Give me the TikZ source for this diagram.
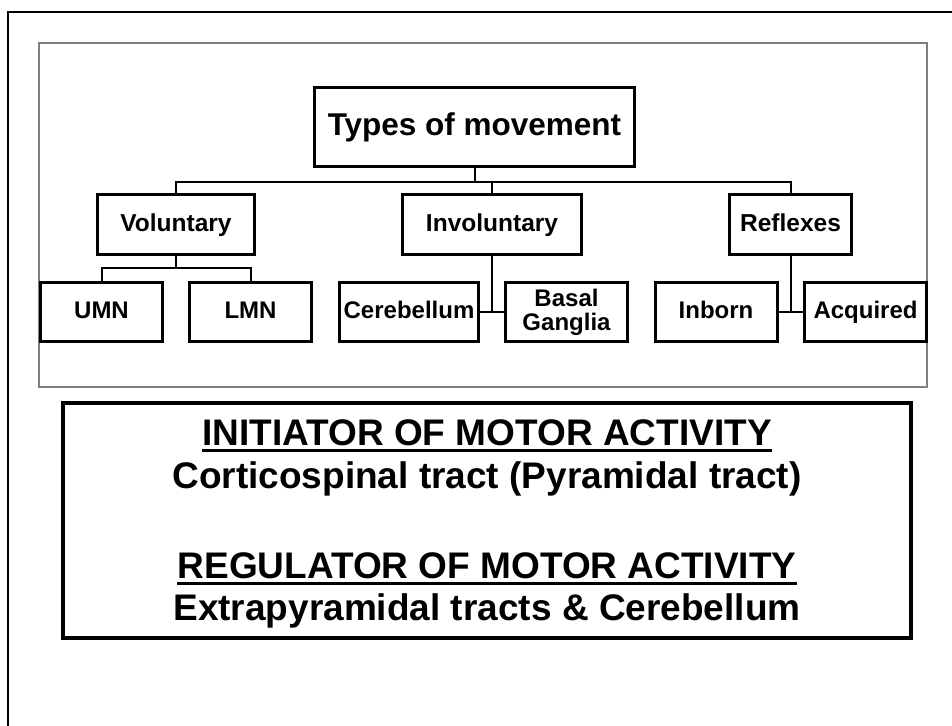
\documentclass[tikz,border=0pt]{standalone}
\usepackage{fontspec}
\setmainfont{Liberation Sans}
\usepackage{xcolor}
\definecolor{framegray}{RGB}{128,128,128}
\usepackage{tikz}
\usetikzlibrary{positioning, calc}

\tikzset{
  topbox/.style={draw, line width=3.2, inner sep=0, minimum width=320, minimum height=79,
                 font=\fontsize{31.5}{36}\selectfont\bfseries, text height=23.6, text depth=6.3},
  kindbox/.style={draw, line width=3, inner sep=0, minimum height=60,
                 font=\fontsize{24.5}{27}\selectfont\bfseries, text height=18.4, text depth=4.9},
  partbox/.style={draw, line width=3, inner sep=0, minimum height=59, minimum width=122,
                 font=\fontsize{24}{26}\selectfont\bfseries, align=center},
  partword/.style={partbox, text height=18, text depth=4.8},
  link/.style={line width=2},
  bigline/.style={inner sep=0, anchor=base, font=\fontsize{37}{44}\selectfont\bfseries},
  ulbar/.style={line width=3}
}

\begin{document}
\begin{tikzpicture}[x=1pt, y=-1pt]
  \clip (0,0) rectangle (952,725);
  % Frames
  \draw[line width=2.2] (8,12) rectangle (962,740);
  \draw[framegray, line width=1.5] (39,43) rectangle (927,387);

  % --- Tree: types of movement ---
  \node[topbox] (root) at (474.5,127) {Types of movement};
  \node[kindbox, minimum width=157] (vol)   at (176,224.5)   {Voluntary};
  \node[kindbox, minimum width=179] (invol) at (492,224.5)   {Involuntary};
  \node[kindbox, minimum width=122] (refl)  at (790.5,224.5) {Reflexes};
  % Bottom row
  \node[partword] (umn)    at (101.5,312) {UMN};
  \node[partword] (lmn)    at (250.5,312) {LMN};
  \node[partword, minimum width=139] (cereb) at (409,312) {Cerebellum};
  \node[partbox]  (basal)  at (566.5,312) {Basal\\[-2pt]Ganglia};
  \node[partword] (inborn) at (716,312)   {Inborn};
  \node[partword] (acq)    at (865.5,312) {Acquired};

  % Connectors
  \coordinate (bus) at (474.5,182);
  \coordinate (volbus) at (176,268);
  \draw[link] (root) -- (bus);
  \draw[link] (vol.north) |- (bus) -| (refl.north);
  \draw[link] (invol.north) -- (invol.north |- bus);
  \draw[link] (vol) -- (volbus);
  \draw[link] (umn.north) |- (volbus) -| (lmn.north);
  \draw[link] (invol) -- (invol |- cereb);
  \draw[link] (cereb) -- (basal.west |- cereb);
  \draw[link] (refl) -- (refl |- inborn);
  \draw[link] (inborn) -- (acq);

  % --- Initiator / regulator box ---
  \draw[line width=3.5] (63,403) rectangle (911,638);
  \node[bigline] (init)  at (487,445) {INITIATOR OF MOTOR ACTIVITY};
  \node[bigline] (corti) at (487,488) {Corticospinal tract (Pyramidal tract)};
  \node[bigline] (regul) at (487,578) {REGULATOR OF MOTOR ACTIVITY};
  \node[bigline] (extra) at (487,620) {Extrapyramidal tracts \& Cerebellum};
  \draw[ulbar] ([yshift=-5.5]init.base west) -- ([yshift=-5.5]init.base east);
  \draw[ulbar] ([yshift=-5.5]regul.base west) -- ([yshift=-5.5]regul.base east);
\end{tikzpicture}
\end{document}
